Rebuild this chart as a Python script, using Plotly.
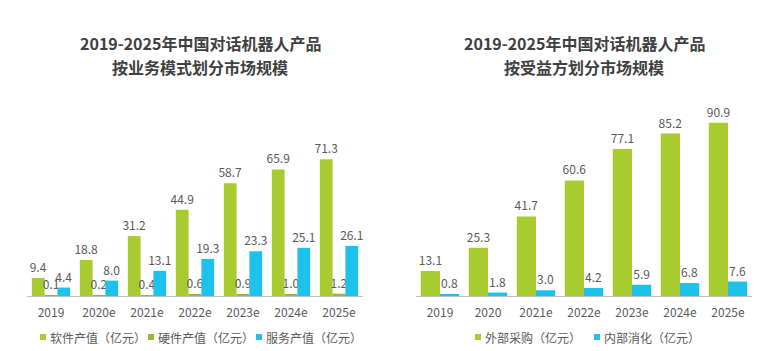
import plotly.graph_objects as go
from plotly.subplots import make_subplots

# ---- data ----
years_left = ["2019", "2020e", "2021e", "2022e", "2023e", "2024e", "2025e"]
software = [9.4, 18.8, 31.2, 44.9, 58.7, 65.9, 71.3]
hardware = [0.1, 0.2, 0.4, 0.6, 0.9, 1.0, 1.2]
service = [4.4, 8.0, 13.1, 19.3, 23.3, 25.1, 26.1]

years_right = ["2019", "2020", "2021e", "2022e", "2023e", "2024e", "2025e"]
external = [13.1, 25.3, 41.7, 60.6, 77.1, 85.2, 90.9]
internal = [0.8, 1.8, 3.0, 4.2, 5.9, 6.8, 7.6]

left_names = ["软件产值（亿元）", "硬件产值（亿元）", "服务产值（亿元）"]
right_names = ["外部采购（亿元）", "内部消化（亿元）"]
title_left = ["2019-2025年中国对话机器人产品", "按业务模式划分市场规模"]
title_right = ["2019-2025年中国对话机器人产品", "按受益方划分市场规模"]

GREEN = "#A8CB2F"
GREEN2 = "#93BA34"
CYAN = "#1EC0EC"
TXT = "#595959"
FONT = "Noto Sans CJK SC"

W, H = 775, 351

fig = make_subplots(rows=1, cols=2)

def bar(x, y, name, color, row, col):
    return go.Bar(
        x=x, y=y, name=name, marker=dict(color=color, line=dict(width=0)),
        text=y, texttemplate="%{y:.1f}", textposition="outside",
        constraintext="none", cliponaxis=False,
        textfont=dict(size=12, color=TXT, family=FONT),
        showlegend=False, hoverinfo="skip",
    )

fig.add_trace(bar(years_left, software, left_names[0], GREEN, 1, 1), row=1, col=1)
fig.add_trace(bar(years_left, hardware, left_names[1], GREEN2, 1, 1), row=1, col=1)
fig.add_trace(bar(years_left, service, left_names[2], CYAN, 1, 1), row=1, col=1)
fig.add_trace(bar(years_right, external, right_names[0], GREEN, 1, 2), row=1, col=2)
fig.add_trace(bar(years_right, internal, right_names[1], CYAN, 1, 2), row=1, col=2)

ybot = 55 / H
ytop = (H - 100) / H
xaxis_common = dict(
    showline=True, linecolor="#BFBFBF", linewidth=1,
    showgrid=False, zeroline=False,
    ticks="outside", ticklen=6, tickcolor="rgba(0,0,0,0)",
    tickfont=dict(size=12, color=TXT, family=FONT),
    fixedrange=True,
)
yaxis_common = dict(visible=False, showgrid=False, zeroline=False, fixedrange=True)

fig.update_layout(
    width=W, height=H,
    margin=dict(l=0, r=0, t=0, b=0),
    paper_bgcolor="white", plot_bgcolor="white",
    barmode="group", bargap=0.2, bargroupgap=0,
    font=dict(family=FONT, color=TXT),
    xaxis=dict(domain=[27 / W, 363 / W], **xaxis_common),
    xaxis2=dict(domain=[416 / W, 752 / W], **xaxis_common),
    yaxis=dict(domain=[ybot, ytop], range=[0, 102.1], **yaxis_common),
    yaxis2=dict(domain=[ybot, ytop], range=[0, 102.8], **yaxis_common),
)

# titles
for cx, lines in ((200 / W, title_left), (584 / W, title_right)):
    for i, line in enumerate(lines):
        fig.add_annotation(
            x=cx, y=(H - (43 + 24 * i)) / H, xref="paper", yref="paper",
            text=line, showarrow=False, xanchor="center", yanchor="middle",
            font=dict(size=16, color="#404040", family=FONT, weight="bold"),
        )

# legends (square marker + label)
leg_y = 337
legend_items = [
    (40, left_names[0], GREEN), (148, left_names[1], GREEN2), (256, left_names[2], CYAN),
    (475, right_names[0], GREEN), (594, right_names[1], CYAN),
]
for lx, name, color in legend_items:
    fig.add_shape(
        type="rect", xref="paper", yref="paper",
        x0=lx / W, x1=(lx + 6) / W, y0=(H - leg_y - 3) / H, y1=(H - leg_y + 3) / H,
        fillcolor=color, line=dict(width=0),
    )
    fig.add_annotation(
        x=(lx + 8) / W, y=(H - leg_y) / H, xref="paper", yref="paper",
        text=name, showarrow=False, xanchor="left", yanchor="middle",
        font=dict(size=12, color=TXT, family=FONT),
    )

fig.write_html("out.html")
